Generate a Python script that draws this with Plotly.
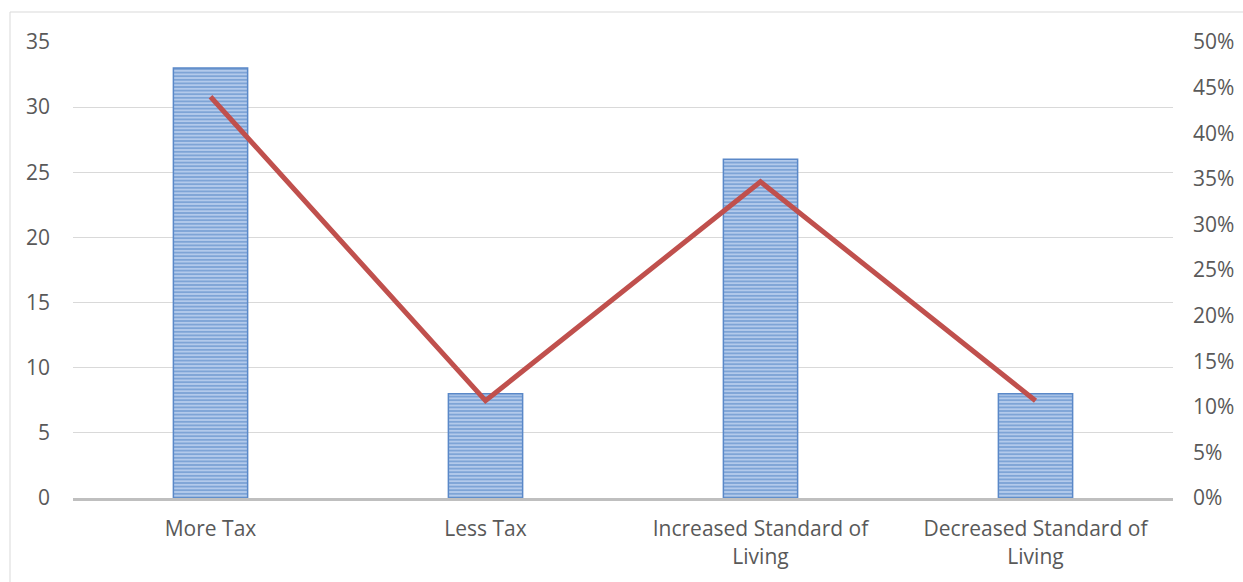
import plotly.graph_objects as go

categories = ["More Tax", "Less Tax", "Increased Standard of<br>Living", "Decreased Standard of<br>Living"]
counts = [33, 8, 26, 8]
shares = [0.44, 0.1067, 0.3467, 0.1067]

W, H = 1243, 582
L, R, T, B = 73, 70, 42, 84

font = dict(family="'Open Sans', sans-serif", size=21, color="#595959")

fig = go.Figure()
fig.add_trace(go.Bar(
    x=categories, y=counts, width=0.27,
    marker=dict(
        color="#7FA5D9",
        line=dict(color="#5A88C8", width=1.5),
        pattern=dict(shape="-", fgcolor="#4A7DC2", bgcolor="#B3CAEB", size=3.6, solidity=0.5),
    ),
    yaxis="y", showlegend=False,
))
fig.add_trace(go.Scatter(
    x=categories, y=shares, mode="lines",
    line=dict(color="#C0504D", width=5),
    yaxis="y2", showlegend=False,
))

fig.update_layout(
    width=W, height=H,
    margin=dict(l=L, r=R, t=T, b=B),
    paper_bgcolor="white", plot_bgcolor="white",
    font=font,
    bargap=0.73,
    xaxis=dict(showgrid=False, ticks="", showline=True, linecolor="#BFBFBF", linewidth=3,
               tickfont=font, ticklabelstandoff=10, automargin=False),
    yaxis=dict(range=[0, 35], dtick=5, showgrid=True, gridcolor="#D9D9D9", gridwidth=1,
               zeroline=False, showline=False, ticks="", tickfont=font, ticklabelstandoff=22,
               automargin=False),
    yaxis2=dict(range=[0, 0.5], dtick=0.05, tickformat=".0%", overlaying="y", side="right",
                showgrid=False, zeroline=False, showline=False, ticks="", tickfont=font,
                ticklabelstandoff=19, automargin=False),
    shapes=[dict(type="rect", xref="paper", yref="paper",
                 x0=(10 - L) / (W - L - R), x1=(W + 5 - L) / (W - L - R),
                 y0=-(H + 5 - (H - B)) / (H - T - B), y1=(H - B - 12) / (H - T - B),
                 line=dict(color="#D9D9D9", width=1), layer="below")],
)

fig.write_html("out.html")
